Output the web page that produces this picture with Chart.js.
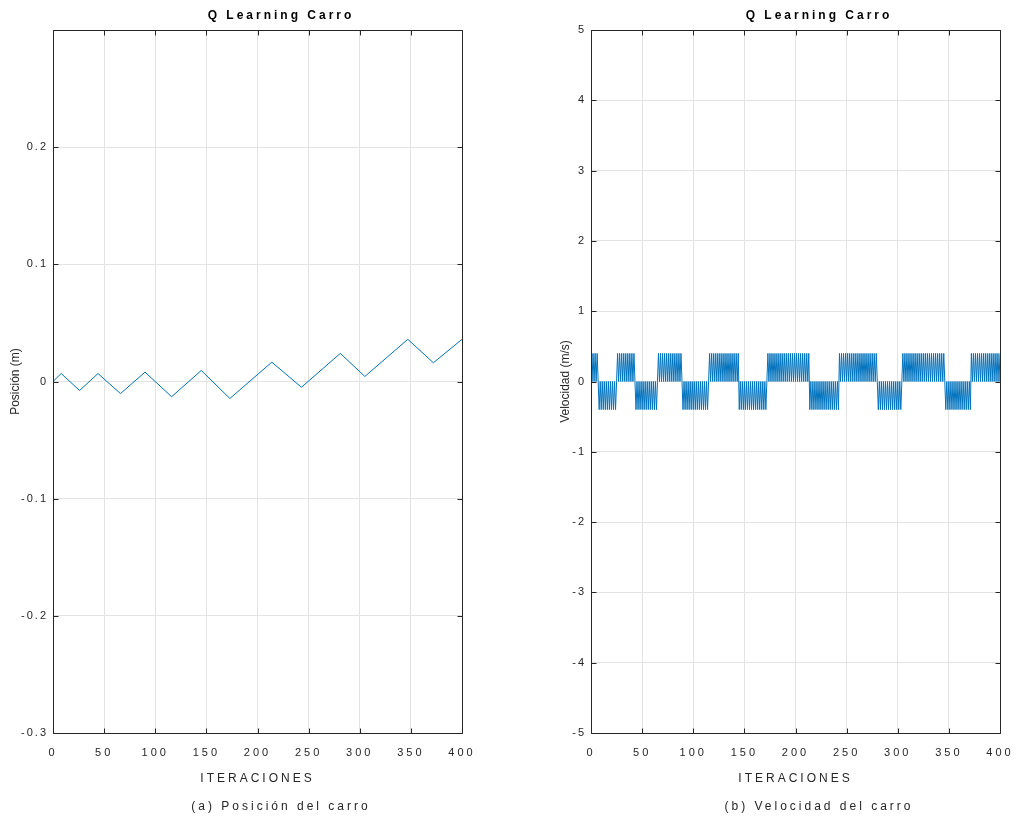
<!DOCTYPE html>
<html>
<head>
<meta charset="utf-8">
<script src="https://cdn.jsdelivr.net/npm/chart.js@4.4.1/dist/chart.umd.min.js"></script>
<style>
  html, body { margin: 0; padding: 0; background: #fff; overflow: hidden; width: 1021px; height: 820px; }
  canvas { position: absolute; top: 0; }
</style>
</head>
<body>
<canvas id="pos-chart" width="562" height="820" style="left:0"></canvas>
<canvas id="vel-chart" width="558" height="820" style="left:540px"></canvas>
<script>
// iteration where the cart position changes direction, and the position there (m)
const positionIter = [0, 8, 26, 44, 66, 90, 116, 145, 173, 214, 243, 281, 305, 347, 372, 400];
const positionValue = [0, 0.0068, -0.0077, 0.0068, -0.0103, 0.008, -0.013, 0.0094, -0.0145,
                       0.0165, -0.0049, 0.024, 0.0043, 0.036, 0.016, 0.036];

// velocity for each iteration 0..400: p = +0.4, n = -0.4, 0 = 0 (m/s)
const velocityTrace = [
  "p0p0p0p0",
  "n0n0n0n0n0 n0n0n0n0",
  "p0p0p0p0p0 p0p0p0p0",
  "n0n0n0n0n0 n0n0n0n0n0 n0",
  "p0p0p0p0p0 p0p0p0p0p0 p0p0",
  "n0n0n0n0n0 n0n0n0n0n0 n0n0n0",
  "p0p0p0p0p0 p0p0p0p0p0 p0p0p0p0p",
  "n0n0n0n0n0 n0n0n0n0n0 n0n0n0n0",
  "p0p0p0p0p0 p0p0p0p0p0 p0p0p0p0p0 p0p0p0p0p0 p",
  "n0n0n0n0n0 n0n0n0n0n0 n0n0n0n0n",
  "p0p0p0p0p0 p0p0p0p0p0 p0p0p0p0p0 p0p0p0p0",
  "n0n0n0n0n0 n0n0n0n0n0 n0n0",
  "p0p0p0p0p0 p0p0p0p0p0 p0p0p0p0p0 p0p0p0p0p0 p0",
  "n0n0n0n0n0 n0n0n0n0n0 n0n0n",
  "p0p0p0p0p0 p0p0p0p0p0 p0p0p0p0p"
];
const velocityLevel = { p: 0.4, n: -0.4, "0": 0 };

const xTicks = { min: 0, max: 400, step: 50 };
const posTicks = { min: -0.3, max: 0.3, step: 0.1 };
const velTicks = { min: -5, max: 5, step: 1 };

const velocity = velocityTrace.join("").replace(/\s/g, "").split("").map(c => velocityLevel[c]);

const FONT = "'Liberation Sans', Arial, sans-serif";
const TEXT = "#262626";
const BLUE = "#0072BD";

// MATLAB-like letter spaced text
const spacing = {
  id: "spacing",
  beforeDraw(chart) { chart.ctx.letterSpacing = "3px"; },
  afterDraw(chart) { chart.ctx.letterSpacing = "0px"; }
};

// y axis: tighter tick labels, plain title
function yAxisSpacing(scale) {
  if (scale._spacingDone) return;
  scale._spacingDone = true;
  const drawTitle = scale.drawTitle, drawLabels = scale.drawLabels;
  scale.drawTitle = function () {
    const s = this.ctx.letterSpacing;
    this.ctx.letterSpacing = "0px";
    drawTitle.apply(this, arguments);
    this.ctx.letterSpacing = s;
  };
  scale.drawLabels = function () {
    const s = this.ctx.letterSpacing;
    this.ctx.letterSpacing = "2px";
    drawLabels.apply(this, arguments);
    this.ctx.letterSpacing = s;
  };
}

// box around the axes with inward tick marks
const frame = {
  id: "frame",
  afterDraw(chart) {
    const { ctx, chartArea: a, scales } = chart;
    const l = Math.round(a.left) + 0.5, r = Math.round(a.right) + 0.5;
    const t = Math.round(a.top) + 0.5, b = Math.round(a.bottom) + 0.5;
    ctx.save();
    ctx.strokeStyle = TEXT;
    ctx.lineWidth = 1;
    ctx.beginPath();
    ctx.rect(l, t, r - l, b - t);
    scales.x.ticks.forEach(tk => {
      const px = Math.round(scales.x.getPixelForValue(tk.value)) + 0.5;
      ctx.moveTo(px, b); ctx.lineTo(px, b - 5);
      ctx.moveTo(px, t); ctx.lineTo(px, t + 5);
    });
    scales.y.ticks.forEach(tk => {
      const py = Math.round(scales.y.getPixelForValue(tk.value)) + 0.5;
      ctx.moveTo(l, py); ctx.lineTo(l + 5, py);
      ctx.moveTo(r, py); ctx.lineTo(r - 5, py);
    });
    ctx.stroke();
    ctx.restore();
  }
};

function makeOptions(o) {
  return {
    responsive: false,
    animation: false,
    layout: { padding: 0 },
    plugins: {
      legend: { display: false },
      tooltip: { enabled: false },
      title: {
        display: true, text: "Q Learning Carro", color: "#000",
        font: { family: FONT, size: 12, weight: "bold", lineHeight: 1.2 },
        padding: { top: 8, bottom: 7.6 }
      },
      subtitle: {
        display: true, position: "bottom", text: o.caption, color: TEXT,
        font: { family: FONT, size: 12, lineHeight: 1.2 },
        padding: { top: 9, bottom: 6.6 }
      }
    },
    scales: {
      x: {
        type: "linear", min: xTicks.min, max: xTicks.max,
        ticks: { stepSize: xTicks.step, color: TEXT, padding: 13, font: { family: FONT, size: 11 } },
        grid: { color: "#e3e3e3", drawTicks: false },
        border: { display: false },
        title: {
          display: true, text: "ITERACIONES", color: TEXT,
          font: { family: FONT, size: 12, lineHeight: 1.2 },
          padding: { top: 4, bottom: 4 }
        },
        afterFit(scale) { scale.height = 57; }
      },
      y: {
        type: "linear", min: o.ticks.min, max: o.ticks.max,
        ticks: {
          stepSize: o.ticks.step, color: TEXT, padding: 5,
          font: { family: FONT, size: 11 },
          callback: o.label
        },
        grid: { color: "#e3e3e3", drawTicks: false },
        border: { display: false },
        title: {
          display: true, text: o.yTitle, color: TEXT,
          font: { family: FONT, size: 12, lineHeight: 1.2 },
          padding: { top: o.yTitlePad, bottom: 0 }
        },
        afterFit(scale) { scale.width = o.yWidth; yAxisSpacing(scale); }
      },
      y2: {
        type: "linear", position: "right", min: 0, max: 1,
        ticks: { display: false },
        grid: { display: false, drawTicks: false },
        border: { display: false },
        afterFit(scale) { scale.width = o.y2Width; }
      }
    }
  };
}

new Chart(document.getElementById("pos-chart").getContext("2d"), {
  type: "line",
  data: {
    datasets: [{
      data: positionIter.map((it, i) => ({ x: it, y: positionValue[i] })),
      borderColor: BLUE, borderWidth: 1, pointRadius: 0, fill: false, tension: 0
    }]
  },
  options: makeOptions({
    caption: "(a) Posición del carro",
    yTitle: "Posición (m)",
    ticks: posTicks,
    label: v => (Math.abs(v - posTicks.max) < 1e-9 ? "" : String(Math.round(v * 10) / 10)),
    yWidth: 53, y2Width: 100, yTitlePad: 8
  }),
  plugins: [spacing, frame]
});

new Chart(document.getElementById("vel-chart").getContext("2d"), {
  type: "line",
  data: {
    datasets: [{
      data: velocity.map((v, i) => ({ x: i, y: v })),
      borderColor: BLUE, borderWidth: 1, borderJoinStyle: "bevel",
      pointRadius: 0, fill: false, tension: 0
    }]
  },
  options: makeOptions({
    caption: "(b) Velocidad del carro",
    yTitle: "Velocidad (m/s)",
    ticks: velTicks,
    label: v => String(Math.round(v)),
    yWidth: 51, y2Width: 98, yTitlePad: 18
  }),
  plugins: [spacing, frame]
});
</script>
</body>
</html>
